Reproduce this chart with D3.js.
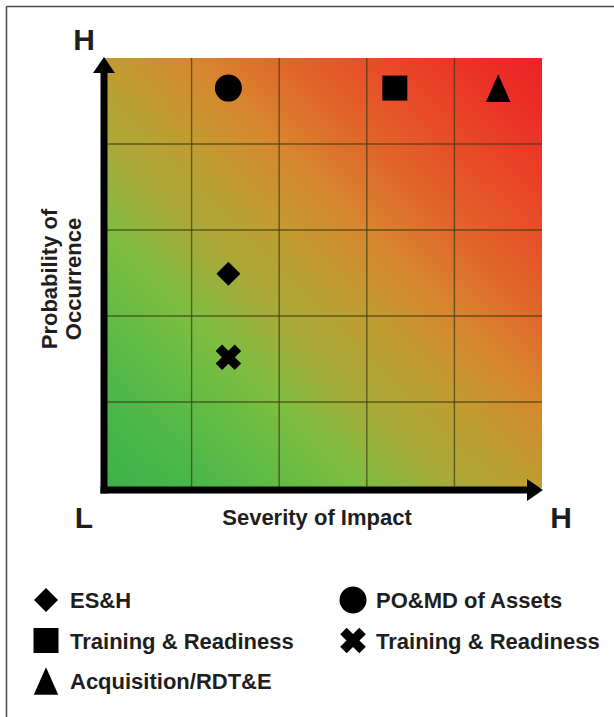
<!DOCTYPE html>
<html>
<head>
<meta charset="utf-8">
<script src="https://cdn.jsdelivr.net/npm/d3@7"></script>
<style>
  html, body { margin: 0; padding: 0; background: #ffffff; }
  svg { display: block; }
  text { font-family: "Liberation Sans", Arial, Helvetica, sans-serif; fill: #1e1e1e; }
</style>
</head>
<body>
<svg id="chart" width="614" height="717"></svg>
<script>
// ---------- data ----------
const categories  = ["ES&H", "PO&MD of Assets", "Training & Readiness", "Training & Readiness", "Acquisition/RDT&E"];
const shapes      = ["diamond", "circle", "square", "cross", "triangle"];
const severity    = [1.42, 1.42, 3.32, 1.42, 4.50];   // x: Severity of Impact (0-5)
const probability = [2.49, 4.65, 4.65, 1.52, 4.65];   // y: Probability of Occurrence (0-5)
const gridTicks   = [1, 2, 3, 4];
const lowLabel = "L", highLabel = "H";
const xTitle = "Severity of Impact";
const yTitleLines = ["Probability of", "Occurrence"];

// ---------- layout ----------
const svg = d3.select("#chart");
const x = d3.scaleLinear().domain([0, 5]).range([104, 542]);
const y = d3.scaleLinear().domain([0, 5]).range([488, 58]);

// frame
svg.append("line").attr("x1", 6.5).attr("y1", 6.5).attr("x2", 614).attr("y2", 6.5)
  .attr("stroke", "#4a4a4a").attr("stroke-width", 1.5);
svg.append("line").attr("x1", 6.5).attr("y1", 6.5).attr("x2", 6.5).attr("y2", 717)
  .attr("stroke", "#4a4a4a").attr("stroke-width", 1.5);

// gradient: diagonal, green (low/low) to red (high/high)
const defs = svg.append("defs");
const grad = defs.append("linearGradient").attr("id", "riskGrad")
  .attr("gradientUnits", "objectBoundingBox")
  .attr("x1", 0).attr("y1", 1).attr("x2", 1).attr("y2", 0);
[[0, "#3db24a"], [0.1, "#48b64a"], [0.2, "#60bb45"], [0.3, "#7ebd40"], [0.4, "#a8a938"],
 [0.5, "#c09c31"], [0.6, "#d8862f"], [0.7, "#e0662a"], [0.8, "#e84d28"], [0.9, "#eb3326"],
 [1, "#ec2226"]].forEach(s =>
  grad.append("stop").attr("offset", s[0]).attr("stop-color", s[1]));

svg.append("rect")
  .attr("x", x(0)).attr("y", y(5))
  .attr("width", x(5) - x(0)).attr("height", y(0) - y(5))
  .attr("fill", "url(#riskGrad)");

// grid
const gridG = svg.append("g").attr("stroke", "#3b3a10").attr("stroke-opacity", 0.7).attr("stroke-width", 1.4);
gridG.selectAll("line.v").data(gridTicks).join("line").attr("class", "v")
  .attr("x1", d => x(d)).attr("x2", d => x(d)).attr("y1", y(5)).attr("y2", y(0));
gridG.selectAll("line.h").data(gridTicks).join("line").attr("class", "h")
  .attr("y1", d => y(d)).attr("y2", d => y(d)).attr("x1", x(0)).attr("x2", x(5));

// axes with arrows
const axW = 7;
svg.append("line").attr("x1", x(0)).attr("x2", x(0)).attr("y1", y(0) + 5.5).attr("y2", y(5) + 14)
  .attr("stroke", "#000").attr("stroke-width", axW);
svg.append("path").attr("d", `M${x(0)},${y(5) - 1} L${x(0) + 11},${y(5) + 15} L${x(0) - 11},${y(5) + 15} Z`).attr("fill", "#000");
svg.append("line").attr("x1", x(0) - 3.5).attr("x2", x(5) - 14).attr("y1", y(0) + 2).attr("y2", y(0) + 2)
  .attr("stroke", "#000").attr("stroke-width", axW);
svg.append("path").attr("d", `M${x(5) + 1},${y(0) + 2} L${x(5) - 15},${y(0) + 13} L${x(5) - 15},${y(0) - 9} Z`).attr("fill", "#000");

// H / L labels
const bigFont = 30;
svg.append("text").attr("x", 84).attr("y", 50).attr("text-anchor", "middle")
  .attr("font-size", bigFont).attr("font-weight", "bold").text(highLabel);
svg.append("text").attr("x", 84).attr("y", 528).attr("text-anchor", "middle")
  .attr("font-size", bigFont).attr("font-weight", "bold").text(lowLabel);
svg.append("text").attr("x", 561).attr("y", 528).attr("text-anchor", "middle")
  .attr("font-size", bigFont).attr("font-weight", "bold").text(highLabel);

// axis titles
svg.append("text").attr("x", 317).attr("y", 525).attr("text-anchor", "middle")
  .attr("font-size", 22).attr("font-weight", "bold").attr("fill", "#2a2a2a").text(xTitle);
const yt = svg.append("text").attr("transform", "translate(57,279) rotate(-90)")
  .attr("text-anchor", "middle").attr("font-size", 22).attr("font-weight", "bold").attr("fill", "#2a2a2a");
yTitleLines.forEach((t, i) => yt.append("tspan").attr("x", 0).attr("dy", i === 0 ? 0 : 24).text(t));

// symbol types
const symDiamond = { draw(ctx, size) { const s = Math.sqrt(size) / 2;
  ctx.moveTo(0, -s); ctx.lineTo(s, 0); ctx.lineTo(0, s); ctx.lineTo(-s, 0); ctx.closePath(); } };
const symTriangle = { draw(ctx, size) { const e = Math.sqrt(size) / 2;
  ctx.moveTo(0, -e * 1.06); ctx.lineTo(e * 0.94, e * 1.06); ctx.lineTo(-e * 0.94, e * 1.06); ctx.closePath(); } };
const symX = { draw(ctx, size) { const e = Math.sqrt(size) / 2, t = e * 0.34;
  const pts = [[-t, -e], [t, -e], [t, -t], [e, -t], [e, t], [t, t], [t, e], [-t, e], [-t, t], [-e, t], [-e, -t], [-t, -t]];
  const c = Math.SQRT1_2;
  pts.forEach((p, i) => { const px = (p[0] - p[1]) * c, py = (p[0] + p[1]) * c;
    if (i === 0) ctx.moveTo(px, py); else ctx.lineTo(px, py); });
  ctx.closePath(); } };
const symCircle = { draw(ctx, size) { const r = Math.sqrt(size) / 2; ctx.moveTo(r, 0); ctx.arc(0, 0, r, 0, 2 * Math.PI); } };
const symSquare = { draw(ctx, size) { const s = Math.sqrt(size) / 2; ctx.rect(-s, -s, 2 * s, 2 * s); } };
const symTypes = { diamond: symDiamond, circle: symCircle, square: symSquare, cross: symX, triangle: symTriangle };
const symExtent = { diamond: 24, circle: 27, square: 25, cross: 27, triangle: 26 };

const pts = categories.map((c, i) => ({ c, shape: shapes[i], sx: severity[i], py: probability[i], i }));

// markers
svg.append("g").selectAll("path").data(pts).join("path")
  .attr("transform", d => `translate(${x(d.sx)},${y(d.py)})`)
  .attr("d", d => d3.symbol().type(symTypes[d.shape]).size(symExtent[d.shape] ** 2)())
  .attr("fill", "#000");

// legend
const legendX = [46, 353], legendTextX = [70, 376], legendY0 = 600, legendDY = 40.5;
const lg = svg.append("g").selectAll("g").data(pts).join("g")
  .attr("transform", d => `translate(${legendX[d.i % 2]},${legendY0 + Math.floor(d.i / 2) * legendDY})`);
lg.append("path")
  .attr("d", d => d3.symbol().type(symTypes[d.shape]).size(symExtent[d.shape] ** 2)())
  .attr("fill", "#000");
lg.append("text")
  .attr("x", d => legendTextX[d.i % 2] - legendX[d.i % 2])
  .attr("y", 8)
  .attr("font-size", 22).attr("font-weight", "bold").attr("fill", "#222")
  .text(d => d.c);
</script>
</body>
</html>
